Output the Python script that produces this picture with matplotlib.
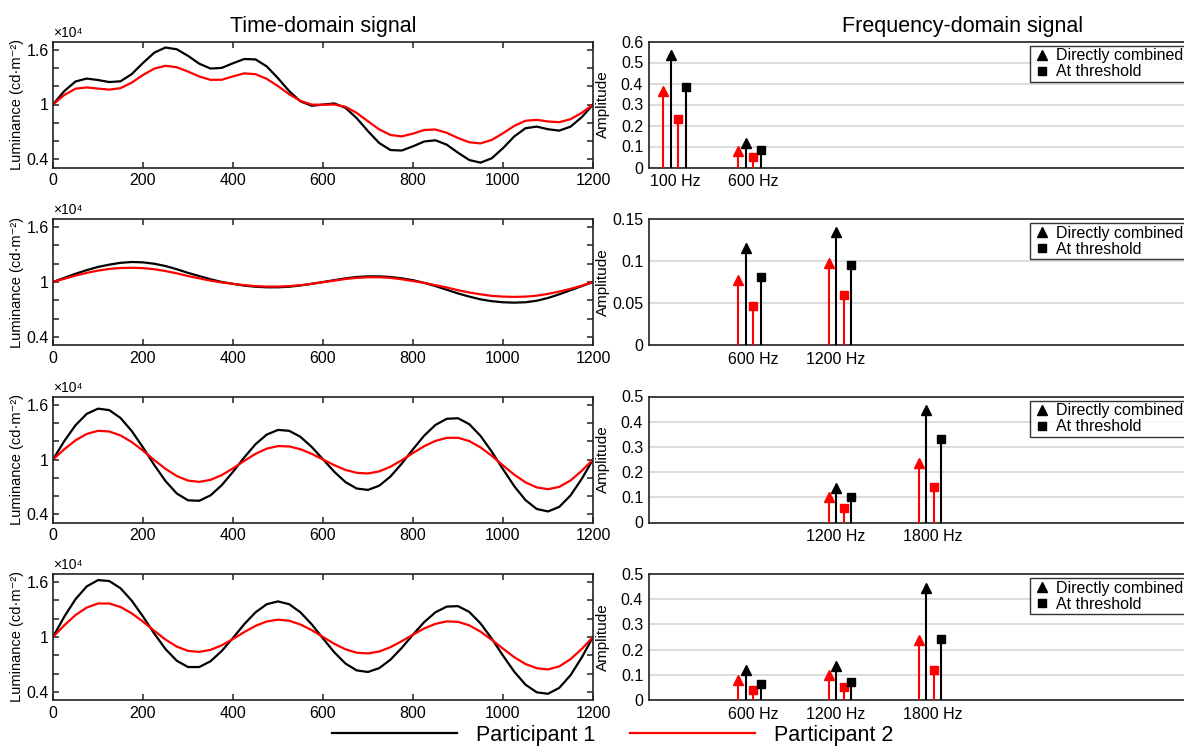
import matplotlib
matplotlib.use("Agg")
import matplotlib.pyplot as plt
from matplotlib.lines import Line2D

plt.rcParams['font.family'] = ['Liberation Sans', 'DejaVu Sans']

# ---------------- data ----------------
time_ms = list(range(0, 1201, 25))

p1_row1 = [1.000, 1.147, 1.252, 1.284, 1.268, 1.246, 1.254, 1.333, 1.455, 1.568,
           1.624, 1.605, 1.533, 1.447, 1.394, 1.401, 1.452, 1.498, 1.494, 1.417,
           1.288, 1.146, 1.034, 0.986, 0.999, 1.012, 0.963, 0.850, 0.708, 0.578,
           0.501, 0.496, 0.542, 0.595, 0.608, 0.560, 0.472, 0.392, 0.363, 0.411,
           0.522, 0.650, 0.740, 0.758, 0.729, 0.714, 0.757, 0.861, 1.000]
p2_row1 = [1.000, 1.104, 1.173, 1.187, 1.174, 1.163, 1.179, 1.240, 1.323, 1.393,
           1.424, 1.408, 1.361, 1.307, 1.270, 1.271, 1.308, 1.341, 1.332, 1.281,
           1.201, 1.112, 1.039, 0.999, 0.997, 1.000, 0.975, 0.907, 0.816, 0.727,
           0.666, 0.651, 0.681, 0.721, 0.726, 0.690, 0.633, 0.586, 0.574, 0.612,
           0.685, 0.766, 0.822, 0.832, 0.814, 0.806, 0.839, 0.909, 1.000]
p1_row2 = [1.000, 1.045, 1.090, 1.130, 1.165, 1.190, 1.210, 1.219, 1.215, 1.200,
           1.175, 1.140, 1.100, 1.065, 1.030, 1.000, 0.980, 0.960, 0.948, 0.942,
           0.942, 0.948, 0.962, 0.980, 1.000, 1.020, 1.040, 1.055, 1.062, 1.062,
           1.055, 1.040, 1.020, 0.990, 0.955, 0.915, 0.875, 0.840, 0.810, 0.790,
           0.778, 0.774, 0.778, 0.795, 0.825, 0.865, 0.910, 0.955, 1.000]
p2_row2 = [1.000, 1.035, 1.070, 1.100, 1.125, 1.143, 1.153, 1.156, 1.152, 1.140,
           1.120, 1.095, 1.065, 1.040, 1.015, 0.995, 0.980, 0.965, 0.955, 0.950,
           0.950, 0.955, 0.965, 0.980, 0.998, 1.015, 1.033, 1.045, 1.052, 1.052,
           1.045, 1.030, 1.010, 0.990, 0.965, 0.940, 0.910, 0.885, 0.865, 0.848,
           0.840, 0.837, 0.840, 0.850, 0.870, 0.895, 0.925, 0.960, 1.000]
p1_row3 = [1.000, 1.201, 1.375, 1.500, 1.557, 1.541, 1.455, 1.312, 1.132, 0.940,
           0.764, 0.628, 0.553, 0.548, 0.607, 0.719, 0.865, 1.023, 1.167, 1.273,
           1.324, 1.314, 1.248, 1.137, 1.002, 0.866, 0.752, 0.682, 0.667, 0.713,
           0.814, 0.955, 1.112, 1.262, 1.379, 1.446, 1.452, 1.387, 1.259, 1.086,
           0.894, 0.708, 0.555, 0.458, 0.431, 0.481, 0.606, 0.788, 1.000]
p2_row3 = [1.000, 1.112, 1.210, 1.280, 1.314, 1.307, 1.264, 1.191, 1.097, 0.994,
           0.898, 0.819, 0.769, 0.755, 0.777, 0.829, 0.903, 0.985, 1.062, 1.119,
           1.147, 1.143, 1.112, 1.062, 1.000, 0.938, 0.886, 0.854, 0.847, 0.870,
           0.921, 0.992, 1.071, 1.146, 1.204, 1.237, 1.238, 1.202, 1.133, 1.040,
           0.935, 0.834, 0.750, 0.694, 0.675, 0.700, 0.770, 0.876, 1.000]
p1_row4 = [1.000, 1.222, 1.414, 1.554, 1.623, 1.613, 1.534, 1.398, 1.224, 1.038,
           0.868, 0.740, 0.671, 0.671, 0.734, 0.847, 0.990, 1.140, 1.270, 1.359,
           1.390, 1.359, 1.270, 1.138, 0.984, 0.833, 0.709, 0.634, 0.617, 0.659,
           0.752, 0.881, 1.026, 1.164, 1.271, 1.333, 1.338, 1.275, 1.149, 0.982,
           0.796, 0.620, 0.478, 0.394, 0.378, 0.443, 0.581, 0.776, 1.000]
p2_row4 = [1.000, 1.128, 1.240, 1.323, 1.367, 1.367, 1.329, 1.259, 1.168, 1.068,
           0.972, 0.895, 0.848, 0.837, 0.859, 0.909, 0.978, 1.054, 1.122, 1.170,
           1.190, 1.178, 1.137, 1.075, 1.000, 0.926, 0.865, 0.828, 0.820, 0.841,
           0.889, 0.954, 1.026, 1.094, 1.144, 1.171, 1.166, 1.128, 1.059, 0.969,
           0.872, 0.779, 0.704, 0.658, 0.645, 0.678, 0.757, 0.869, 1.000]

p1_time = [p1_row1, p1_row2, p1_row3, p1_row4]
p2_time = [p2_row1, p2_row2, p2_row3, p2_row4]

freqs = [[100, 600], [600, 1200], [1200, 1800], [600, 1200, 1800]]
p2_direct = [[0.365, 0.079], [0.077, 0.098], [0.100, 0.236], [0.079, 0.100, 0.237]]
p1_direct = [[0.535, 0.116], [0.1155, 0.1345], [0.136, 0.445], [0.119, 0.136, 0.446]]
p2_thresh = [[0.230, 0.048], [0.047, 0.060], [0.059, 0.140], [0.040, 0.050, 0.118]]
p1_thresh = [[0.381, 0.081], [0.081, 0.095], [0.100, 0.330], [0.062, 0.073, 0.241]]

amp_yticks = [[0, 0.1, 0.2, 0.3, 0.4, 0.5, 0.6],
              [0, 0.05, 0.1, 0.15],
              [0, 0.1, 0.2, 0.3, 0.4, 0.5],
              [0, 0.1, 0.2, 0.3, 0.4, 0.5]]
amp_ticklabels = [['0', '0.1', '0.2', '0.3', '0.4', '0.5', '0.6'],
                  ['0', '0.05', '0.1', '0.15'],
                  ['0', '0.1', '0.2', '0.3', '0.4', '0.5'],
                  ['0', '0.1', '0.2', '0.3', '0.4', '0.5']]

lum_ticks = [0.4, 0.6, 0.8, 1.0, 1.2, 1.4, 1.6]
lum_labels = ['0.4', '', '', '1', '', '', '1.6']
time_ticks = [0, 200, 400, 600, 800, 1000, 1200]

# ---------------- layout ----------------
W, H = 1184, 749
fig = plt.figure(figsize=(W / 100, H / 100), dpi=100)

RED = '#ff0000'
SPINE = '#222222'
stem_off = [-50, 0, 50, 100]
label_off = {100: 32, 600: 48, 1200: -3, 1800: 40}

lx0, lx1 = 53, 593
rx0, rx1 = 648.7, 1190
ax_h = 126
bottoms = [167.5, 345, 522.5, 700]

lines_for_legend = None
for k in range(4):
    b = bottoms[k]
    # ---------- time domain ----------
    ax = fig.add_axes([lx0 / W, 1 - b / H, (lx1 - lx0) / W, ax_h / H])
    l1, = ax.plot(time_ms, p1_time[k], color='black', lw=1.6,
                  solid_joinstyle='round')
    l2, = ax.plot(time_ms, p2_time[k], color=RED, lw=1.6,
                  solid_joinstyle='round')
    if lines_for_legend is None:
        lines_for_legend = (l1, l2)
    ax.set_xlim(0, 1200)
    ax.set_ylim(0.31, 1.69)
    ax.set_xticks(time_ticks)
    ax.set_yticks(lum_ticks)
    ax.set_yticklabels(lum_labels)
    ax.tick_params(direction='in', length=4.5, width=1.1, colors=SPINE,
                   labelsize=11.5, labelcolor='black', top=True, right=True, pad=4)
    ax.tick_params(axis='y', pad=3)
    for s in ax.spines.values():
        s.set_linewidth(1.2)
        s.set_color(SPINE)
    ax.set_ylabel('Luminance (cd·m⁻²)', fontsize=10.5)
    ax.yaxis.set_label_coords(-0.054, 0.5)
    ax.text(0.0, 1.012, '×10⁴', transform=ax.transAxes, fontsize=10,
            ha='left', va='bottom')
    if k == 0:
        ax.set_title('Time-domain signal', fontsize=15.5, pad=7)

    # ---------- frequency domain ----------
    axr = fig.add_axes([rx0 / W, 1 - b / H, (rx1 - rx0) / W, ax_h / H])
    axr.set_axisbelow(True)
    fr = freqs[k]
    series = [(p2_direct[k], RED, '^', 7),
              (p1_direct[k], 'black', '^', 7),
              (p2_thresh[k], RED, 's', 5.5),
              (p1_thresh[k], 'black', 's', 5.5)]
    for j, (vals, col, mk, ms) in enumerate(series):
        xs = [f + stem_off[j] for f in fr]
        axr.vlines(xs, 0, vals, color=col, lw=1.5, zorder=3)
        axr.plot(xs, vals, ls='none', marker=mk, color=col, markersize=ms, zorder=4)
    axr.set_xlim(-47, 3554)
    axr.set_ylim(0, amp_yticks[k][-1])
    axr.set_yticks(amp_yticks[k])
    axr.set_yticklabels(amp_ticklabels[k])
    axr.set_xticks([f + label_off[f] for f in fr])
    axr.set_xticklabels([f'{f} Hz' for f in fr])
    axr.grid(axis='y', color='#d9d9d9', lw=1.3)
    axr.tick_params(axis='both', length=0, labelsize=11.5, pad=5)
    axr.tick_params(axis='y', pad=4)
    for s in axr.spines.values():
        s.set_linewidth(1.2)
        s.set_color(SPINE)
    axr.set_ylabel('Amplitude', fontsize=11)
    axr.yaxis.set_label_coords(-0.071, 0.5)
    handles = [Line2D([], [], ls='none', marker='^', color='black', markersize=7),
               Line2D([], [], ls='none', marker='s', color='black', markersize=5.5)]
    leg = axr.legend(handles, ['Directly combined', 'At threshold'],
                     loc='upper left', bbox_to_anchor=(0.704, 0.965),
                     fontsize=11.5, frameon=True, fancybox=False,
                     borderpad=0.15, labelspacing=0.05, handletextpad=0.3,
                     handlelength=1.2, borderaxespad=0)
    leg.get_frame().set_edgecolor('black')
    leg.get_frame().set_linewidth(1.0)
    if k == 0:
        axr.set_title('Frequency-domain signal', fontsize=15.5, pad=7,
                      x=(963 - rx0) / (rx1 - rx0))

fig.legend(lines_for_legend, ['Participant 1', 'Participant 2'],
           loc='center', bbox_to_anchor=(613 / W, 1 - 735 / H), ncol=2,
           fontsize=15.5, frameon=False, handlelength=5.8, handletextpad=0.9,
           columnspacing=1.6, borderpad=0)

fig.savefig('out.png', dpi=100)
